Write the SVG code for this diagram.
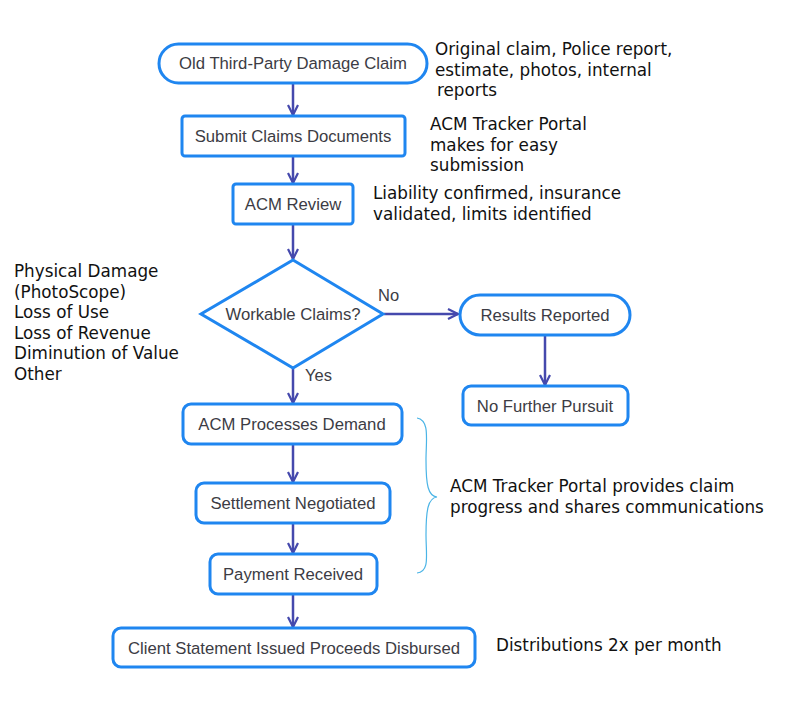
<svg xmlns="http://www.w3.org/2000/svg" width="786" height="712" viewBox="0 0 786 712">
<defs>
<marker id="arr" viewBox="0 0 12 12" refX="11" refY="6" markerWidth="12" markerHeight="12" markerUnits="userSpaceOnUse" orient="auto">
<path d="M1,1 L11,6 L1,11" fill="none" stroke="#4549ad" stroke-width="2.2" stroke-linejoin="miter"/>
</marker>
<style>
.box{fill:#fff;stroke:#1f86f0;stroke-width:3}
.lbl{font-family:"Liberation Sans",Arial,sans-serif;font-size:16.7px;fill:#3c3c44;text-anchor:middle}
.note{font-family:"DejaVu Sans","Open Sans",sans-serif;font-size:16.8px;fill:#111}
.edge{fill:none;stroke:#4549ad;stroke-width:2.5;marker-end:url(#arr)}
.elbl{font-family:"Liberation Sans",Arial,sans-serif;font-size:16.5px;fill:#3c3c44}
</style>
</defs>
<rect width="786" height="712" fill="#fff"/>
<g id="connectors">
<path class="edge" d="M293,84 V115"/>
<path class="edge" d="M293,157 V183"/>
<path class="edge" d="M293,225 V259"/>
<path class="edge" d="M384,314 H458"/>
<path class="edge" d="M545,336 V385"/>
<path class="edge" d="M293,369 V403"/>
<path class="edge" d="M293,445 V482"/>
<path class="edge" d="M293,524 V553"/>
<path class="edge" d="M293,595 V627"/>
<text class="elbl" x="378" y="301">No</text>
<text class="elbl" x="305" y="381">Yes</text>
</g>
<g id="n1"><rect class="box" x="159" y="44" width="268" height="39" rx="19.5"/><text class="lbl" x="293" y="69">Old Third-Party Damage Claim</text></g>
<g id="n2"><rect class="box" x="182" y="116" width="223" height="40" rx="3"/><text class="lbl" x="293" y="142">Submit Claims Documents</text></g>
<g id="n3"><rect class="box" x="233" y="184" width="120" height="40" rx="3"/><text class="lbl" x="293" y="210">ACM Review</text></g>
<g id="n4"><path class="box" d="M293,260 L383,314 L293,368 L201,314 Z" stroke-linejoin="miter"/><text class="lbl" x="293" y="320">Workable Claims?</text></g>
<g id="n5"><rect class="box" x="460" y="295" width="170" height="40" rx="20"/><text class="lbl" x="545" y="321">Results Reported</text></g>
<g id="n6"><rect class="box" x="463" y="386" width="165" height="39" rx="8"/><text class="lbl" x="545" y="412">No Further Pursuit</text></g>
<g id="n7"><rect class="box" x="183" y="404" width="219" height="40" rx="8"/><text class="lbl" x="292" y="430">ACM Processes Demand</text></g>
<g id="n8"><rect class="box" x="196" y="483" width="194" height="40" rx="8"/><text class="lbl" x="293" y="509">Settlement Negotiated</text></g>
<g id="n9"><rect class="box" x="210" y="554" width="167" height="40" rx="8"/><text class="lbl" x="293" y="580">Payment Received</text></g>
<g id="n10"><rect class="box" x="113" y="628" width="362" height="39" rx="8"/><text class="lbl" x="294" y="654">Client Statement Issued Proceeds Disbursed</text></g>
<g id="notes">
<text class="note" x="435" y="55">Original claim, Police report,</text>
<text class="note" x="435" y="76">estimate, photos, internal</text>
<text class="note" x="437" y="96">reports</text>
<text class="note" x="430" y="130">ACM Tracker Portal</text>
<text class="note" x="430" y="151">makes for easy</text>
<text class="note" x="430" y="171">submission</text>
<text class="note" x="373" y="199">Liability confirmed, insurance</text>
<text class="note" x="373" y="220">validated, limits identified</text>
<text class="note" x="14" y="277">Physical Damage</text>
<text class="note" x="14" y="298">(PhotoScope)</text>
<text class="note" x="14" y="318">Loss of Use</text>
<text class="note" x="14" y="339">Loss of Revenue</text>
<text class="note" x="14" y="359">Diminution of Value</text>
<text class="note" x="14" y="380">Other</text>
<text class="note" x="450" y="492">ACM Tracker Portal provides claim</text>
<text class="note" x="450" y="513">progress and shares communications</text>
<text class="note" x="496" y="651">Distributions 2x per month</text>
</g>
<g id="brace"><path d="M417,418 C430,420 426,440 426,460 C426,485 428,496 437,497 C428,498 426,510 426,535 C426,555 430,572 417,573" fill="none" stroke="#4ab4e6" stroke-width="1.2"/></g>
</svg>
